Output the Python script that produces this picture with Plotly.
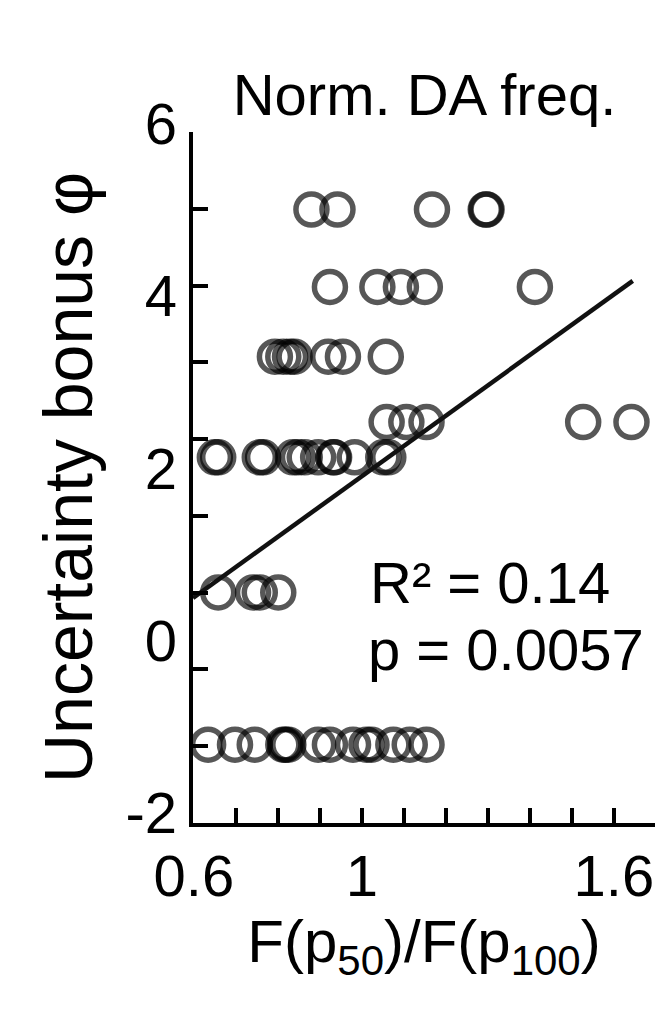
import plotly.graph_objects as go

# points were drawn in rows, one list of x values per row
row_levels = [5.1, 4.2, 3.39, 2.63, 2.22, 0.65, -1.12]
row_5 = [0.880, 0.942, 1.167, 1.295, 1.297]
row_4 = [0.924, 1.037, 1.093, 1.150, 1.412]
row_3 = [0.793, 0.813, 0.829, 0.840, 0.920, 0.955, 1.057]
row_2b = [1.059, 1.106, 1.154, 1.527, 1.642]
row_2 = [0.650, 0.658, 0.757, 0.765, 0.836, 0.848, 0.864, 0.896, 0.932, 0.934, 0.983, 1.051, 1.063]
row_1 = [0.658, 0.741, 0.757, 0.801]
row_m1 = [0.634, 0.698, 0.745, 0.813, 0.818, 0.825, 0.896, 0.924, 0.979, 1.011, 1.023, 1.075, 1.114, 1.154]
rows = [row_5, row_4, row_3, row_2b, row_2, row_1, row_m1]

# regression line
fit_slope = 3.52
fit_intercept = -1.52
fit_x = [0.598, 1.645]

# axis ticks / labels
x_labels = [0.6, 1.0, 1.6]
x_label_text = ["0.6", "1", "1.6"]
y_labels = [-2, 0, 2, 4, 6]
y_label_text = ["-2", "0", "2", "4", "6"]
y_range = [-2.03, 6.001]
n_y_ticks = 9   # tick marks on the y axis are not at the labels

xs, ys = [], []
for lev, r in zip(row_levels, rows):
    xs += r
    ys += [lev] * len(r)

fit_y = [fit_slope * v + fit_intercept for v in fit_x]

FONT = "Liberation Sans, Arial, sans-serif"
tick_style = dict(ticks="inside", ticklen=15, tickwidth=3.5, tickcolor="black")

# page body has an 8px margin, so the figure is a bit smaller than the window
W, H = 661, 1007

fig = go.Figure()
fig.add_trace(go.Scatter(
    x=xs, y=ys, mode="markers",
    marker=dict(symbol="circle-open", size=31, color="black", opacity=0.66,
                line=dict(width=5.5)),
    showlegend=False, hoverinfo="skip"))
fig.add_trace(go.Scatter(
    x=fit_x, y=fit_y, mode="lines", yaxis="y2",
    line=dict(color="#111111", width=4.5),
    showlegend=False, hoverinfo="skip"))

fig.update_layout(
    width=W, height=H,
    margin=dict(l=185, r=14, t=124, b=192),
    paper_bgcolor="white", plot_bgcolor="white",
    font=dict(family=FONT, size=58, color="black"),
    title=dict(text="Norm. DA freq.", x=416.5 / W, xanchor="center",
               y=1 - 87 / H, yanchor="middle", font=dict(size=58)),
    xaxis=dict(range=[0.598, 1.698], tickvals=x_labels, ticktext=x_label_text,
               **tick_style,
               minor=dict(tick0=0.6, dtick=0.1, **tick_style),
               showline=True, linecolor="black", linewidth=3.5,
               showgrid=False, zeroline=False, automargin=False,
               ticklabelstandoff=0,
               title=dict(text="F(p<sub>50</sub>)/F(p<sub>100</sub>)",
                          font=dict(size=60), standoff=0)),
    yaxis=dict(range=y_range, tickmode="linear", tick0=y_range[0],
               dtick=(6.0 - y_range[0]) / n_y_ticks, **tick_style,
               showticklabels=False,
               showline=True, linecolor="black", linewidth=3.5,
               showgrid=False, zeroline=False, automargin=False,
               title=dict(text="Uncertainty bonus φ", font=dict(size=68),
                          standoff=75)),
    yaxis2=dict(range=y_range, overlaying="y", side="left",
                tickvals=y_labels, ticktext=y_label_text, ticks="",
                showline=False, showgrid=False, zeroline=False,
                automargin=False, ticklabelstandoff=15, ticklabelshift=-8),
    annotations=[
        dict(text="R² = 0.14", xref="paper", yref="paper",
             x=(368 - 193) / 462, y=(823 - 582) / 691,
             xanchor="left", yanchor="middle", showarrow=False,
             font=dict(size=58)),
        dict(text="p = 0.0057", xref="paper", yref="paper",
             x=(366 - 193) / 462, y=(823 - 649) / 691,
             xanchor="left", yanchor="middle", showarrow=False,
             font=dict(size=58)),
    ],
)

fig.write_html("out.html")
